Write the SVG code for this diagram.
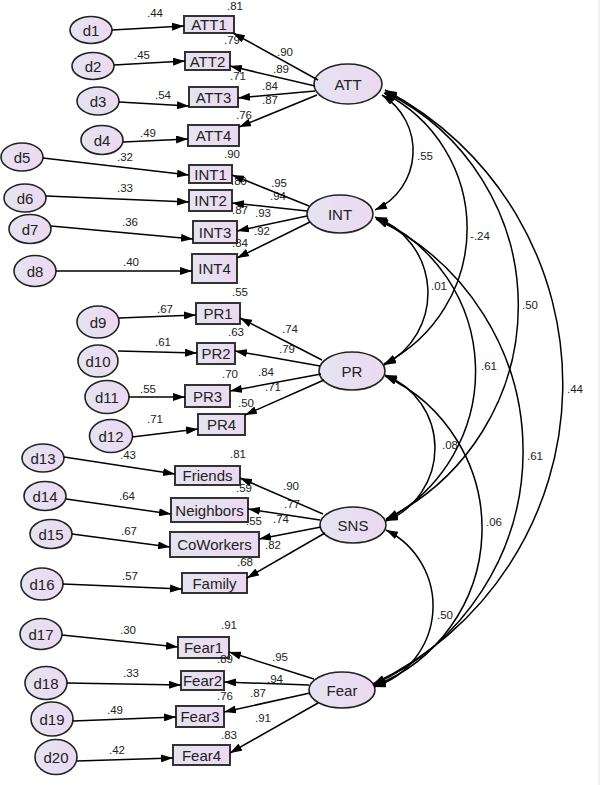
<svg xmlns="http://www.w3.org/2000/svg" width="600" height="785" viewBox="0 0 600 785">
<defs>
<linearGradient id="fillg" x1="0" y1="0" x2="1" y2="0">
<stop offset="0" stop-color="#e4e4f1"/>
<stop offset="1" stop-color="#ecd9f1"/>
</linearGradient>
<marker id="ah" viewBox="0 0 12 8" refX="12" refY="4" markerWidth="12" markerHeight="8" markerUnits="userSpaceOnUse" orient="auto-start-reverse">
<path d="M0,0 L12,4 L0,8 z" fill="#000"/>
</marker>
<style>
.lat{fill:url(#fillg);stroke:#222;stroke-width:1.6}
.err{fill:url(#fillg);stroke:#222;stroke-width:1.6}
.box{fill:url(#fillg);stroke:#333;stroke-width:2}
.nt{font-family:"Liberation Sans",Arial,sans-serif;font-size:15px;fill:#222;text-anchor:middle}
.lb{font-family:"Liberation Sans",Arial,sans-serif;font-size:11.5px;fill:#222;text-anchor:middle}
.ar{fill:none;stroke:#000;stroke-width:1.5;marker-end:url(#ah)}
.cv{fill:none;stroke:#000;stroke-width:1.5;marker-start:url(#ah);marker-end:url(#ah)}
</style>
</defs>
<rect x="0" y="0" width="600" height="785" fill="#fff"/>
<rect x="598" y="0" width="2" height="785" fill="#f1f1f1"/>

<!-- latent variables -->
<g id="ATT"><ellipse class="lat" cx="348" cy="84" rx="34" ry="20"/><text class="nt" x="348" y="89.5">ATT</text></g>
<g id="INT"><ellipse class="lat" cx="340" cy="214" rx="33" ry="19"/><text class="nt" x="340" y="219.5">INT</text></g>
<g id="PR"><ellipse class="lat" cx="352" cy="371" rx="33" ry="19"/><text class="nt" x="352" y="376.5">PR</text></g>
<g id="SNS"><ellipse class="lat" cx="353" cy="525" rx="33" ry="18"/><text class="nt" x="353" y="530.5">SNS</text></g>
<g id="Fear"><ellipse class="lat" cx="342" cy="690" rx="33" ry="18"/><text class="nt" x="342" y="695.5">Fear</text></g>

<!-- observed variables -->
<g id="ATT1"><rect class="box" x="184" y="16" width="50" height="17"/><text class="nt" x="209" y="30">ATT1</text></g>
<g id="ATT2"><rect class="box" x="185" y="52" width="45" height="18"/><text class="nt" x="207.5" y="66.5">ATT2</text></g>
<g id="ATT3"><rect class="box" x="189" y="87" width="49" height="20"/><text class="nt" x="213.5" y="102.5">ATT3</text></g>
<g id="ATT4"><rect class="box" x="188" y="125" width="51" height="21"/><text class="nt" x="213.5" y="141">ATT4</text></g>
<g id="INT1"><rect class="box" x="189" y="165" width="43" height="18"/><text class="nt" x="210.5" y="179.5">INT1</text></g>
<g id="INT2"><rect class="box" x="189" y="190" width="43" height="21"/><text class="nt" x="210.5" y="206">INT2</text></g>
<g id="INT3"><rect class="box" x="193" y="221" width="44" height="22"/><text class="nt" x="215" y="237.5">INT3</text></g>
<g id="INT4"><rect class="box" x="192" y="254" width="45" height="29"/><text class="nt" x="214.5" y="274">INT4</text></g>
<g id="PR1"><rect class="box" x="196" y="303" width="44" height="21"/><text class="nt" x="218" y="319">PR1</text></g>
<g id="PR2"><rect class="box" x="197" y="343" width="38" height="21"/><text class="nt" x="216" y="359">PR2</text></g>
<g id="PR3"><rect class="box" x="185" y="385" width="45" height="22"/><text class="nt" x="207.5" y="401.5">PR3</text></g>
<g id="PR4"><rect class="box" x="198" y="414" width="47" height="21"/><text class="nt" x="221.5" y="430">PR4</text></g>
<g id="Friends"><rect class="box" x="175" y="466" width="65" height="19"/><text class="nt" x="207.5" y="481">Friends</text></g>
<g id="Neighbors"><rect class="box" x="171" y="498" width="77" height="24"/><text class="nt" x="209.5" y="515.5">Neighbors</text></g>
<g id="CoWorkers"><rect class="box" x="170" y="532" width="89" height="25"/><text class="nt" x="214.5" y="550">CoWorkers</text></g>
<g id="Family"><rect class="box" x="182" y="573" width="65" height="20"/><text class="nt" x="214.5" y="588.5">Family</text></g>
<g id="Fear1"><rect class="box" x="178" y="637" width="51" height="21"/><text class="nt" x="203.5" y="653">Fear1</text></g>
<g id="Fear2"><rect class="box" x="181" y="671" width="43" height="19"/><text class="nt" x="202.5" y="686">Fear2</text></g>
<g id="Fear3"><rect class="box" x="176" y="706" width="48" height="21"/><text class="nt" x="200" y="722">Fear3</text></g>
<g id="Fear4"><rect class="box" x="173" y="745" width="57" height="20"/><text class="nt" x="201.5" y="760.5">Fear4</text></g>

<!-- error terms -->
<g id="d1"><ellipse class="err" cx="91" cy="30" rx="21" ry="13.5"/><text class="nt" x="91" y="35.5">d1</text></g>
<g id="d2"><ellipse class="err" cx="93" cy="66" rx="21" ry="13.5"/><text class="nt" x="93" y="71.5">d2</text></g>
<g id="d3"><ellipse class="err" cx="98" cy="101" rx="21" ry="14"/><text class="nt" x="98" y="106.5">d3</text></g>
<g id="d4"><ellipse class="err" cx="102" cy="140" rx="21" ry="14.5"/><text class="nt" x="102" y="145.5">d4</text></g>
<g id="d5"><ellipse class="err" cx="22" cy="157" rx="21" ry="14"/><text class="nt" x="22" y="162.5">d5</text></g>
<g id="d6"><ellipse class="err" cx="25" cy="198" rx="21" ry="14"/><text class="nt" x="25" y="203.5">d6</text></g>
<g id="d7"><ellipse class="err" cx="30" cy="229" rx="21" ry="14.5"/><text class="nt" x="30" y="234.5">d7</text></g>
<g id="d8"><ellipse class="err" cx="35" cy="271" rx="21" ry="15.5"/><text class="nt" x="35" y="276.5">d8</text></g>
<g id="d9"><ellipse class="err" cx="98" cy="322" rx="21" ry="16"/><text class="nt" x="98" y="327.5">d9</text></g>
<g id="d10"><ellipse class="err" cx="98" cy="361" rx="20" ry="16"/><text class="nt" x="98" y="366.5">d10</text></g>
<g id="d11"><ellipse class="err" cx="107" cy="397" rx="22" ry="16.5"/><text class="nt" x="107" y="402.5">d11</text></g>
<g id="d12"><ellipse class="err" cx="111" cy="436" rx="21.5" ry="16.5"/><text class="nt" x="111" y="441.5">d12</text></g>
<g id="d13"><ellipse class="err" cx="43" cy="458" rx="21" ry="14"/><text class="nt" x="43" y="463.5">d13</text></g>
<g id="d14"><ellipse class="err" cx="45" cy="496" rx="21" ry="14.5"/><text class="nt" x="45" y="501.5">d14</text></g>
<g id="d15"><ellipse class="err" cx="51" cy="534" rx="21" ry="14.5"/><text class="nt" x="51" y="539.5">d15</text></g>
<g id="d16"><ellipse class="err" cx="42" cy="584" rx="21" ry="16"/><text class="nt" x="42" y="589.5">d16</text></g>
<g id="d17"><ellipse class="err" cx="41" cy="634" rx="21" ry="15.5"/><text class="nt" x="41" y="639.5">d17</text></g>
<g id="d18"><ellipse class="err" cx="46" cy="683" rx="21" ry="16.5"/><text class="nt" x="46" y="688.5">d18</text></g>
<g id="d19"><ellipse class="err" cx="52" cy="719" rx="21" ry="17"/><text class="nt" x="52" y="724.5">d19</text></g>
<g id="d20"><ellipse class="err" cx="56" cy="757" rx="21" ry="17.5"/><text class="nt" x="56" y="762.5">d20</text></g>

<!-- labels -->
<g id="labels">
<text class="lb" x="235" y="10">.81</text><text class="lb" x="155" y="17">.44</text><text class="lb" x="232" y="44">.79</text><text class="lb" x="285" y="56">.90</text><text class="lb" x="142" y="59">.45</text><text class="lb" x="281" y="73">.89</text><text class="lb" x="238" y="80">.71</text><text class="lb" x="270" y="90">.84</text><text class="lb" x="163" y="99">.54</text><text class="lb" x="270" y="104">.87</text><text class="lb" x="244" y="119">.76</text><text class="lb" x="148" y="137">.49</text>
<text class="lb" x="125" y="161">.32</text><text class="lb" x="232" y="158">.90</text><text class="lb" x="279" y="187">.95</text><text class="lb" x="239" y="185">.89</text><text class="lb" x="125" y="192">.33</text><text class="lb" x="278" y="200">.94</text><text class="lb" x="240" y="214">.87</text><text class="lb" x="263" y="217">.93</text><text class="lb" x="130" y="226">.36</text><text class="lb" x="262" y="235">.92</text><text class="lb" x="240" y="247">.84</text><text class="lb" x="131" y="266">.40</text>
<text class="lb" x="240" y="296">.55</text><text class="lb" x="165" y="313">.67</text><text class="lb" x="290" y="333">.74</text><text class="lb" x="236" y="336">.63</text><text class="lb" x="163" y="346">.61</text><text class="lb" x="287" y="353">.79</text><text class="lb" x="230" y="378">.70</text><text class="lb" x="266" y="376">.84</text><text class="lb" x="148" y="393">.55</text><text class="lb" x="273" y="391">.71</text><text class="lb" x="246" y="407">.50</text><text class="lb" x="155" y="423">.71</text>
<text class="lb" x="128" y="459">.43</text><text class="lb" x="238" y="458">.81</text><text class="lb" x="291" y="490">.90</text><text class="lb" x="244" y="492">.59</text><text class="lb" x="127" y="500">.64</text><text class="lb" x="292" y="508">.77</text><text class="lb" x="281" y="523">.74</text><text class="lb" x="254" y="525">.55</text><text class="lb" x="129" y="535">.67</text><text class="lb" x="273" y="549">.82</text><text class="lb" x="245" y="566">.68</text><text class="lb" x="130" y="580">.57</text>
<text class="lb" x="128" y="634">.30</text><text class="lb" x="229" y="629">.91</text><text class="lb" x="280" y="661">.95</text><text class="lb" x="225" y="663">.89</text><text class="lb" x="131" y="677">.33</text><text class="lb" x="275" y="683">.94</text><text class="lb" x="225" y="700">.76</text><text class="lb" x="258" y="697">.87</text><text class="lb" x="115" y="714">.49</text><text class="lb" x="263" y="722">.91</text><text class="lb" x="229" y="739">.83</text><text class="lb" x="117" y="754">.42</text>
<text class="lb" x="425" y="160">.55</text><text class="lb" x="480" y="240">-.24</text><text class="lb" x="439" y="290">.01</text><text class="lb" x="530" y="309">.50</text><text class="lb" x="489" y="370">.61</text><text class="lb" x="575" y="393">.44</text><text class="lb" x="450" y="449">.08</text><text class="lb" x="535" y="460">.61</text><text class="lb" x="494" y="526">.06</text><text class="lb" x="445" y="619">.50</text>
</g>

<!-- connectors -->
<g id="connectors">
<path class="ar" d="M112,30 L184,26"/>
<path class="ar" d="M114,65 L185,61"/>
<path class="ar" d="M119,102 L189,106"/>
<path class="ar" d="M123,142 L188,139"/>
<path class="ar" d="M43,158 L189,175"/>
<path class="ar" d="M46,196 L189,202"/>
<path class="ar" d="M51,226 L193,239"/>
<path class="ar" d="M56,271 L192,271"/>
<path class="ar" d="M119,318 L196,315"/>
<path class="ar" d="M118,351 L197,353"/>
<path class="ar" d="M129,397 L185,397"/>
<path class="ar" d="M132,437 L198,429"/>
<path class="ar" d="M64,457 L175,474"/>
<path class="ar" d="M66,499 L171,514"/>
<path class="ar" d="M72,534 L170,547"/>
<path class="ar" d="M63,584 L182,589"/>
<path class="ar" d="M62,635 L178,647"/>
<path class="ar" d="M67,683 L181,685"/>
<path class="ar" d="M73,721 L176,717"/>
<path class="ar" d="M77,761 L173,758"/>

<path class="ar" d="M318,80 L233,33"/>
<path class="ar" d="M315,86 L230,66"/>
<path class="ar" d="M315,91 L238,98"/>
<path class="ar" d="M317,95 L239,127"/>
<path class="ar" d="M309,206 L232,175"/>
<path class="ar" d="M307,211 L232,203"/>
<path class="ar" d="M307,216 L237,231"/>
<path class="ar" d="M310,222 L237,258"/>
<path class="ar" d="M322,360 L240,318"/>
<path class="ar" d="M320,366 L235,351"/>
<path class="ar" d="M321,374 L230,391"/>
<path class="ar" d="M324,380 L245,415"/>
<path class="ar" d="M323,514 L240,478"/>
<path class="ar" d="M320,520 L248,509"/>
<path class="ar" d="M321,527 L259,539"/>
<path class="ar" d="M325,533 L247,578"/>
<path class="ar" d="M314,679 L229,652"/>
<path class="ar" d="M309,685 L224,682"/>
<path class="ar" d="M310,693 L224,712"/>
<path class="ar" d="M318,703 L230,753"/>

<path class="cv" d="M382,95 A65.3,65.3 0 0 1 375,210"/>
<path class="cv" d="M384,93 A152,152 0 0 1 384,364"/>
<path class="cv" d="M385,92 A238,238 0 0 1 386,519"/>
<path class="cv" d="M385,90 A332,332 0 0 1 373,684"/>
<path class="cv" d="M375,217 A81,81 0 0 1 384,365"/>
<path class="cv" d="M376,218 A168,168 0 0 1 386,520"/>
<path class="cv" d="M376,219 A257,257 0 0 1 373,685"/>
<path class="cv" d="M385,375 A78.6,78.6 0 0 1 386,521"/>
<path class="cv" d="M385,376 A168.6,168.6 0 0 1 374,686"/>
<path class="cv" d="M386,530 A85,85 0 0 1 374,687"/>
</g>
</svg>
